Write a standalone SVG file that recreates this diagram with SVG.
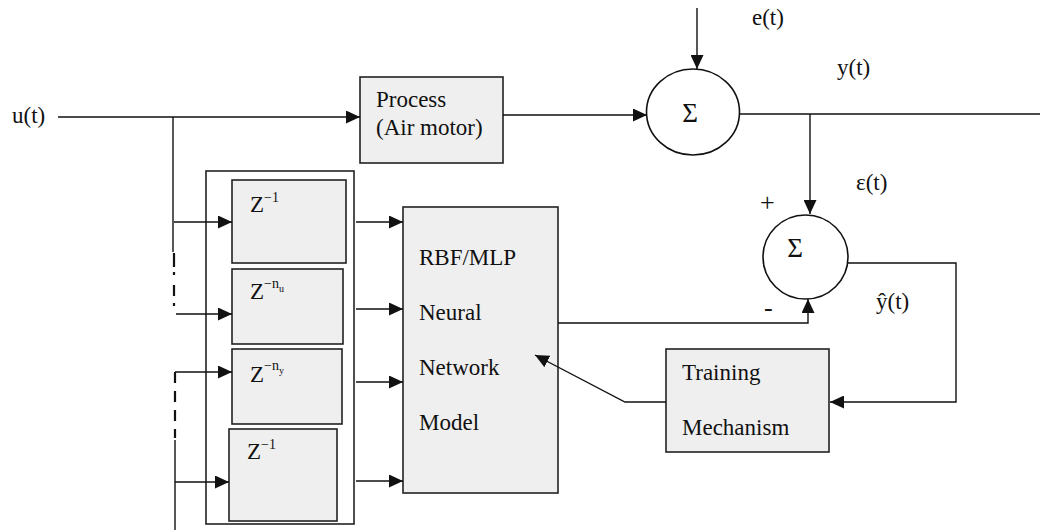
<svg xmlns="http://www.w3.org/2000/svg" width="1040" height="530" viewBox="0 0 1040 530">
<style>
text{font-family:"Liberation Serif","Times New Roman",serif;font-size:23px;fill:#111}
.box{fill:#efefef;stroke:#222;stroke-width:1.6}
.frame{fill:none;stroke:#222;stroke-width:1.6}
.ln{fill:none;stroke:#111;stroke-width:1.4}
.arr{fill:none;stroke:#111;stroke-width:1.4;marker-end:url(#ah)}
.dash{fill:none;stroke:#111;stroke-width:2.2}
.sup{font-size:14px}
.sub{font-size:10px}
.sig{font-size:27px}
</style>
<defs>
<marker id="ah" markerUnits="userSpaceOnUse" markerWidth="15" markerHeight="13" refX="14" refY="6.5" orient="auto">
<path d="M0,0 L14,6.5 L0,13 z" fill="#111"/>
</marker>
</defs>
<g id="input-label"><text x="12" y="123">u(t)</text></g>
<g id="process">
<rect class="box" x="360" y="77" width="143" height="86"/>
<text x="376" y="107">Process</text>
<text x="376" y="135">(Air motor)</text>
</g>
<g id="sum1">
<ellipse cx="693" cy="112" rx="46.5" ry="43" fill="#fff" stroke="#111" stroke-width="1.6"/>
<text class="sig" x="690" y="122" text-anchor="middle">Σ</text>
</g>
<g id="labels">
<text x="752" y="25">e(t)</text>
<text x="837" y="75">y(t)</text>
<text x="856" y="190">ε(t)</text>
<text x="760" y="211" style="font-size:26px">+</text>
<text x="764" y="316" style="font-size:26px">-</text>
<text x="876" y="309">ŷ(t)</text>
</g>
<g id="sum2">
<ellipse cx="805.5" cy="257" rx="42.5" ry="42" fill="#fff" stroke="#111" stroke-width="1.6"/>
<text class="sig" x="795" y="257" text-anchor="middle">Σ</text>
</g>
<g id="delay-frame"><rect class="frame" x="206" y="171" width="148" height="353"/></g>
<g id="z1">
<rect class="box" x="232" y="180" width="114" height="83"/>
<text x="250" y="212">Z<tspan class="sup" dy="-10">−1</tspan></text>
</g>
<g id="znu">
<rect class="box" x="232" y="269" width="111" height="75"/>
<text x="250" y="299">Z<tspan class="sup" dy="-11">−n</tspan><tspan class="sub" dy="4">u</tspan></text>
</g>
<g id="zny">
<rect class="box" x="232" y="349" width="110" height="75"/>
<text x="250" y="382">Z<tspan class="sup" dy="-12">−n</tspan><tspan class="sub" dy="4">y</tspan></text>
</g>
<g id="z1b">
<rect class="box" x="229" y="429" width="108" height="92"/>
<text x="247" y="459">Z<tspan class="sup" dy="-10">−1</tspan></text>
</g>
<g id="nn">
<rect class="box" x="403" y="207" width="155" height="286"/>
<text x="419" y="265">RBF/MLP</text>
<text x="419" y="320">Neural</text>
<text x="419" y="375">Network</text>
<text x="419" y="430">Model</text>
</g>
<g id="training">
<rect class="box" x="666" y="349" width="163" height="103"/>
<text x="682" y="380">Training</text>
<text x="682" y="435">Mechanism</text>
</g>
<g id="connectors">
<path class="arr" d="M58,117 H360"/>
<path class="ln" d="M173,117 V252"/>
<path class="dash" d="M174,253 V267 M174,272 V275 M174,285 V296 M174,303 V306"/>
<path class="arr" d="M174,222 H232"/>
<path class="arr" d="M176,314 H232"/>
<path class="arr" d="M175,372 H232"/>
<path class="dash" d="M175,372 V438" stroke-dasharray="11,8"/>
<path class="ln" d="M175,440 V530"/>
<path class="arr" d="M175,482 H229"/>
<path class="arr" d="M356,222 H403"/>
<path class="arr" d="M356,309 H403"/>
<path class="arr" d="M356,382 H403"/>
<path class="arr" d="M356,481 H403"/>
<path class="arr" d="M503,115 H647"/>
<path class="arr" d="M697,8 V69"/>
<path class="ln" d="M740,114 H1040"/>
<path class="arr" d="M810,114 V214"/>
<path class="arr" d="M558,323 H808 V299"/>
<path class="arr" d="M848,263 H956 V402 H830"/>
<path class="arr" d="M666,402 H625 L535,355"/>
</g>
</svg>
